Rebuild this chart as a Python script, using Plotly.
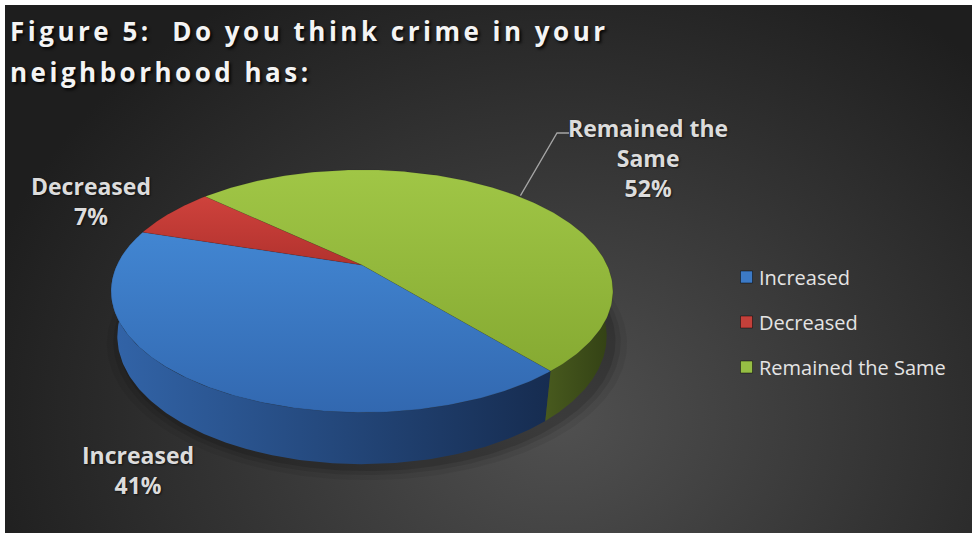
import numpy as np
import plotly.graph_objects as go

# ---- data -------------------------------------------------------------
title_lines = ["Figure 5:  Do you think crime in your", "neighborhood has:"]
categories = ["Increased", "Decreased", "Remained the Same"]
label_names = ["Increased", "Decreased", "Remained the<br>Same"]
percents = [41, 7, 52]

# ---- styling ----------------------------------------------------------
W, H = 972, 533
top_scales = [
    [[0, "rgb(50,104,176)"], [1, "rgb(66,134,210)"]],
    [[0, "rgb(178,50,46)"], [1, "rgb(206,66,60)"]],
    [[0, "rgb(134,170,50)"], [1, "rgb(160,198,70)"]],
]
wall_scales = [
    [[0, "rgb(50,100,168)"], [1, "rgb(22,44,80)"]],
    [[0, "rgb(140,36,34)"], [1, "rgb(100,26,24)"]],
    [[0, "rgb(72,90,30)"], [1, "rgb(50,64,20)"]],
]
legend_colors = ["rgb(60,122,198)", "rgb(196,64,58)", "rgb(150,190,68)"]

# pie geometry in pixels, seen through a simple perspective camera
CX, CY, S = 362.0, 265.0, 245.0
SIN_E, COS_E = 0.472, 0.882
DIST = 4.09
THICK = 0.21
START = 50.0  # degrees, clockwise from 3 o'clock


def project(phi_deg, r, z):
    phi = np.radians(phi_deg)
    x3, y3 = r * np.cos(phi), r * np.sin(phi)
    depth = y3 * COS_E + z * SIN_E
    k = DIST / (DIST - depth)
    return CX + S * x3 * k, CY + S * (y3 * SIN_E - z * COS_E) * k


total = float(sum(percents))
bounds = [START]
for p in percents:
    bounds.append(bounds[-1] + p / total * 360.0)

fig = go.Figure()

# background with a soft radial glow
fig.add_trace(go.Scatter(
    x=[-40, 1160, 1160, -40, -40], y=[-80, -80, 920, 920, -80],
    mode="lines", line=dict(width=0), fill="toself",
    fillgradient=dict(type="radial",
                      colorscale=[[0, "rgb(80,80,80)"], [0.55, "rgb(52,52,52)"], [1, "rgb(30,30,30)"]]),
    hoverinfo="skip", showlegend=False))

# soft shadow under the pie
ring = np.linspace(0, 360, 241)
for grow, alpha in [(1.06, 0.06), (1.035, 0.09), (1.015, 0.12)]:
    sx, sy = project(ring, grow, -THICK)
    fig.add_trace(go.Scatter(
        x=sx + 5, y=sy + 4, mode="lines", line=dict(width=0), fill="toself",
        fillcolor=f"rgba(0,0,0,{alpha})", hoverinfo="skip", showlegend=False))

# outer walls (front-facing part of each slice)
for i in range(len(percents)):
    a1, a2 = bounds[i], bounds[i + 1]
    for k in (0, 1):
        lo, hi = max(a1, -15 + 360 * k), min(a2, 195 + 360 * k)
        if hi <= lo:
            continue
        ang = np.linspace(lo, hi, 160)
        tx, ty = project(ang, 1.0, 0.0)
        bx, by = project(ang[::-1], 1.0, -THICK)
        fig.add_trace(go.Scatter(
            x=np.concatenate([tx, bx, tx[:1]]), y=np.concatenate([ty, by, ty[:1]]),
            mode="lines", line=dict(width=0), fill="toself",
            fillgradient=dict(type="horizontal", colorscale=wall_scales[i]),
            hoverinfo="skip", showlegend=False))

# top faces
for i in range(len(percents)):
    ang = np.linspace(bounds[i], bounds[i + 1], 200)
    ax, ay = project(ang, 1.0, 0.0)
    fig.add_trace(go.Scatter(
        x=np.concatenate([[CX], ax, [CX]]), y=np.concatenate([[CY], ay, [CY]]),
        mode="lines", line=dict(width=0.6, color="rgba(0,0,0,0.15)"), fill="toself",
        fillgradient=dict(type="vertical", colorscale=top_scales[i]),
        hoverinfo="skip", showlegend=False))

# leader line for the large slice label
mid = (bounds[2] + bounds[3]) / 2.0
lx, ly = project(mid, 1.0, 0.0)
fig.add_trace(go.Scatter(
    x=[float(lx) + 4, 557, 569], y=[float(ly), 133, 133], mode="lines",
    line=dict(color="rgb(165,165,165)", width=1.3), hoverinfo="skip", showlegend=False))

# legend swatches
leg_y = [277, 322, 367]
fig.add_trace(go.Scatter(
    x=[746.5] * 3, y=leg_y, mode="markers",
    marker=dict(symbol="square", size=12, color=legend_colors,
                line=dict(color="rgba(0,0,0,0.45)", width=1)),
    hoverinfo="skip", showlegend=False))

annotations = []
title_font = dict(family="Open Sans", size=26, color="#f4f4f4", weight="bold",
                  shadow="2px 2px 3px rgba(0,0,0,0.85)")
for line, y in zip(title_lines, [31, 72]):
    annotations.append(dict(x=8, y=y, xref="x", yref="y", text=line, showarrow=False,
                            xanchor="left", yanchor="middle", align="left", font=title_font))

label_font = dict(family="Open Sans", size=23, color="#dcdcdc", weight="bold",
                  shadow="1px 1px 2px rgba(0,0,0,0.6)")
label_pos = [(138, 470), (91, 201), (648, 158)]
for name, p, (x, y) in zip(label_names, percents, label_pos):
    annotations.append(dict(x=x, y=y, xref="x", yref="y", text=f"{name}<br>{p}%",
                            showarrow=False, xanchor="center", yanchor="middle",
                            align="center", font=label_font))

for name, y in zip(categories, leg_y):
    annotations.append(dict(x=757, y=y, xref="x", yref="y", text=name, showarrow=False,
                            xanchor="left", yanchor="middle", align="left",
                            font=dict(family="Open Sans", size=20, color="#e4e4e4")))

fig.update_layout(
    width=W, height=H, autosize=False,
    margin=dict(l=5, r=0, t=5, b=0, pad=0),
    paper_bgcolor="white", plot_bgcolor="rgb(40,40,40)",
    xaxis=dict(range=[5, W], visible=False, fixedrange=True),
    yaxis=dict(range=[H, 5], visible=False, fixedrange=True),
    annotations=annotations,
    showlegend=False,
)

spacing_js = """
var gd = document.getElementById('{plot_id}');
gd.querySelectorAll('g.annotation').forEach(function (g) {
  var i = g.getAttribute('data-index');
  if (i === '0' || i === '1') {
    g.querySelectorAll('text').forEach(function (t) { t.style.letterSpacing = '3.5px'; });
  }
});
"""

fig.write_html("out.html", config={"displayModeBar": False, "responsive": False},
               post_script=spacing_js)
